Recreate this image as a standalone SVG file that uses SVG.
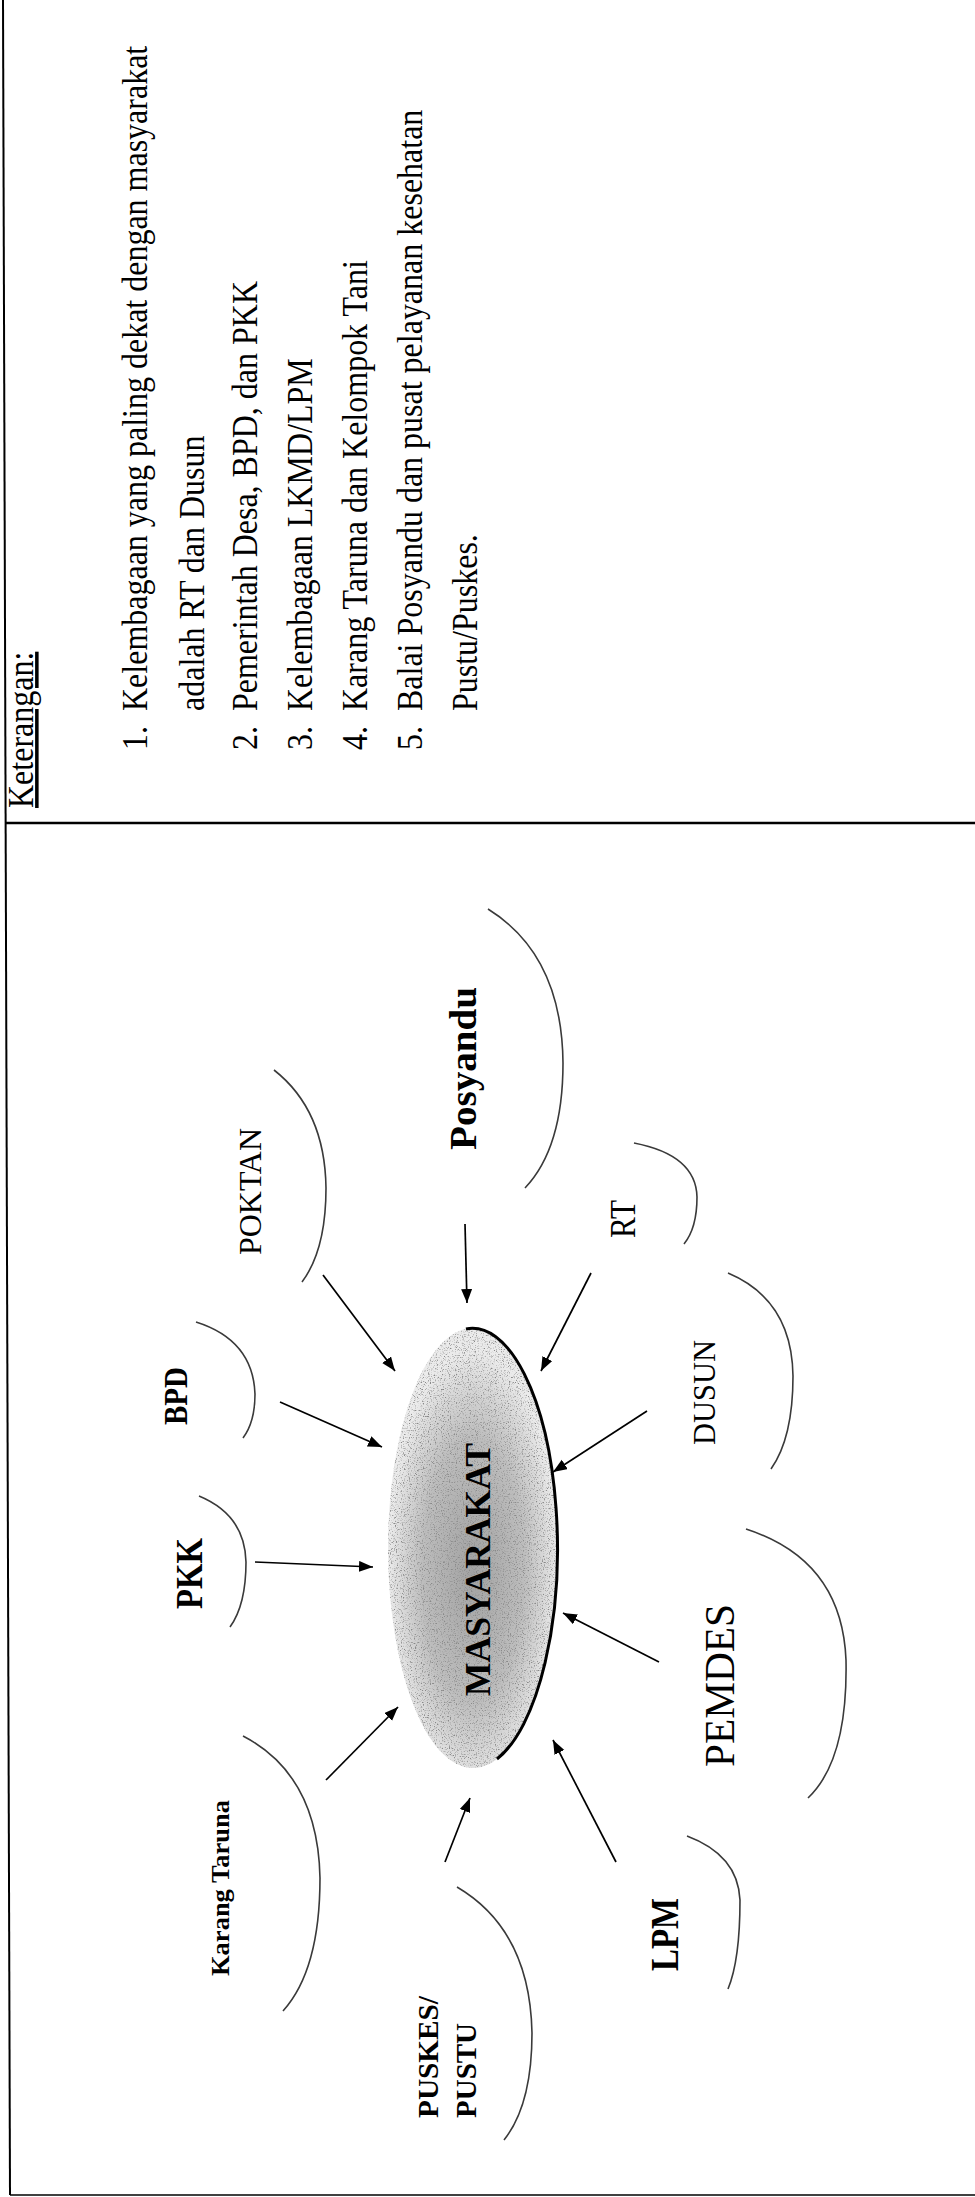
<svg xmlns="http://www.w3.org/2000/svg" width="975" height="2197" viewBox="0 0 975 2197">
<style>
.frame{stroke:#000;fill:none}
.leg{font-family:"Liberation Serif","Times New Roman",serif;font-size:32px;fill:#000}
.lbl{font-family:"Liberation Serif","Times New Roman",serif;fill:#000}
.b{font-weight:bold}
.cloud{fill:none;stroke:#3a3a3a;stroke-width:1.6}
.conn{stroke:#000;stroke-width:1.7;fill:none;marker-end:url(#ah)}
</style>
<defs>
<marker id="ah" markerUnits="userSpaceOnUse" markerWidth="16" markerHeight="12" refX="14" refY="5.5" orient="auto">
<path d="M0,0 L14,5.5 L0,11 z" fill="#000"/>
</marker>
<radialGradient id="g" cx="0.5" cy="0.55" r="0.5">
<stop offset="0" stop-color="#a2a2a2"/>
<stop offset="0.6" stop-color="#bdbdbd"/>
<stop offset="1" stop-color="#ebebeb"/>
</radialGradient>
<filter id="speck" x="0" y="0" width="1" height="1">
<feTurbulence type="fractalNoise" baseFrequency="0.85" numOctaves="2" seed="4" result="n"/>
<feColorMatrix in="n" type="matrix" values="0 0 0 0 0.25  0 0 0 0 0.25  0 0 0 0 0.25  0 0 0 -4 1.9" result="a"/>
<feComposite in="a" in2="SourceGraphic" operator="in" result="dots"/>
<feMerge><feMergeNode in="SourceGraphic"/><feMergeNode in="dots"/></feMerge>
</filter>
</defs>
<g id="frame">
<line class="frame" x1="3" y1="0" x2="10" y2="2195" stroke-width="2"/>
<line class="frame" x1="5" y1="823" x2="975" y2="823" stroke-width="2.5"/>
<line class="frame" x1="10" y1="2195" x2="975" y2="2195" stroke-width="1.5" stroke="#555"/>
</g>
<g id="legend" class="leg">
<text transform="translate(33,808) rotate(-90) scale(1,1.1)" text-decoration="underline">Keterangan:</text>
<text transform="translate(147,750) rotate(-90) scale(1,1.1)">1.</text>
<text transform="translate(147,711) rotate(-90) scale(1,1.1)">Kelembagaan yang paling dekat dengan masyarakat</text>
<text transform="translate(204,711) rotate(-90) scale(1,1.1)">adalah RT dan Dusun</text>
<text transform="translate(257,750) rotate(-90) scale(1,1.1)">2.</text>
<text transform="translate(257,711) rotate(-90) scale(1,1.1)">Pemerintah Desa, BPD, dan PKK</text>
<text transform="translate(312,750) rotate(-90) scale(1,1.1)">3.</text>
<text transform="translate(312,711) rotate(-90) scale(1,1.1)">Kelembagaan LKMD/LPM</text>
<text transform="translate(367,750) rotate(-90) scale(1,1.1)">4.</text>
<text transform="translate(367,711) rotate(-90) scale(1,1.1)">Karang Taruna dan Kelompok Tani</text>
<text transform="translate(422,750) rotate(-90) scale(1,1.1)">5.</text>
<text transform="translate(422,711) rotate(-90) scale(1,1.1)">Balai Posyandu dan pusat pelayanan kesehatan</text>
<text transform="translate(477,711) rotate(-90) scale(1,1.1)">Pustu/Puskes.</text>
</g>
<g id="masyarakat">
<ellipse cx="473" cy="1548" rx="85" ry="220" fill="url(#g)" filter="url(#speck)"/>
<path d="M466,1329 A85,220 0 0 1 497,1759" fill="none" stroke="#000" stroke-width="3"/>
<text class="lbl b" font-size="35" transform="translate(490,1696) rotate(-90)" textLength="253" lengthAdjust="spacingAndGlyphs">MASYARAKAT</text>
</g>
<g id="posyandu">
<path class="cloud" d="M488,909 Q562,955 563,1063 Q563,1148 525,1188"/>
<text class="lbl b" font-size="37" transform="translate(476,1150) rotate(-90)" textLength="163" lengthAdjust="spacingAndGlyphs">Posyandu</text>
</g>
<g id="poktan">
<path class="cloud" d="M274,1070 Q325,1110 326,1188 Q326,1250 302,1282"/>
<text class="lbl" font-size="31" transform="translate(261,1255) rotate(-90)" textLength="127" lengthAdjust="spacingAndGlyphs">POKTAN</text>
</g>
<g id="rt">
<path class="cloud" d="M634,1143 Q696,1155 697,1197 Q697,1228 684,1244"/>
<text class="lbl" font-size="36" transform="translate(635,1238) rotate(-90)" textLength="38" lengthAdjust="spacingAndGlyphs">RT</text>
</g>
<g id="bpd">
<path class="cloud" d="M196,1322 Q253,1340 255,1394 Q255,1422 243,1438"/>
<text class="lbl b" font-size="33" transform="translate(187,1425) rotate(-90)" textLength="58" lengthAdjust="spacingAndGlyphs">BPD</text>
</g>
<g id="dusun">
<path class="cloud" d="M728,1273 Q792,1300 793,1376 Q793,1438 771,1469"/>
<text class="lbl" font-size="31" transform="translate(715,1445) rotate(-90)" textLength="105" lengthAdjust="spacingAndGlyphs">DUSUN</text>
</g>
<g id="pkk">
<path class="cloud" d="M199,1496 Q245,1515 246,1562 Q246,1605 230,1627"/>
<text class="lbl b" font-size="37" transform="translate(202,1609) rotate(-90)" textLength="71" lengthAdjust="spacingAndGlyphs">PKK</text>
</g>
<g id="pemdes">
<path class="cloud" d="M746,1529 Q842,1560 846,1660 Q848,1760 808,1798"/>
<text class="lbl" font-size="42" transform="translate(734,1767) rotate(-90)" textLength="163" lengthAdjust="spacingAndGlyphs">PEMDES</text>
</g>
<g id="karang-taruna">
<path class="cloud" d="M243,1736 Q318,1775 320,1878 Q320,1970 283,2011"/>
<text class="lbl b" font-size="25" transform="translate(229,1976) rotate(-90)" textLength="176" lengthAdjust="spacingAndGlyphs">Karang Taruna</text>
</g>
<g id="puskes-pustu">
<path class="cloud" d="M457,1887 Q530,1930 532,2033 Q532,2105 504,2140"/>
<text class="lbl b" font-size="29" transform="translate(438,2118) rotate(-90)" textLength="122" lengthAdjust="spacingAndGlyphs">PUSKES/</text>
<text class="lbl b" font-size="29" transform="translate(476,2118) rotate(-90)" textLength="95" lengthAdjust="spacingAndGlyphs">PUSTU</text>
</g>
<g id="lpm">
<path class="cloud" d="M687,1836 Q738,1855 740,1900 Q740,1960 728,1989"/>
<text class="lbl b" font-size="39" transform="translate(678,1971) rotate(-90)" textLength="73" lengthAdjust="spacingAndGlyphs">LPM</text>
</g>
<g id="connectors">
<line class="conn" x1="465" y1="1224" x2="467" y2="1303"/>
<line class="conn" x1="323" y1="1275" x2="395" y2="1371"/>
<line class="conn" x1="591" y1="1273" x2="541" y2="1371"/>
<line class="conn" x1="280" y1="1402" x2="382" y2="1447"/>
<line class="conn" x1="647" y1="1411" x2="553" y2="1472"/>
<line class="conn" x1="255" y1="1562" x2="373" y2="1567"/>
<line class="conn" x1="659" y1="1662" x2="563" y2="1613"/>
<line class="conn" x1="326" y1="1780" x2="398" y2="1707"/>
<line class="conn" x1="445" y1="1862" x2="470" y2="1798"/>
<line class="conn" x1="616" y1="1862" x2="553" y2="1740"/>
</g>
</svg>
